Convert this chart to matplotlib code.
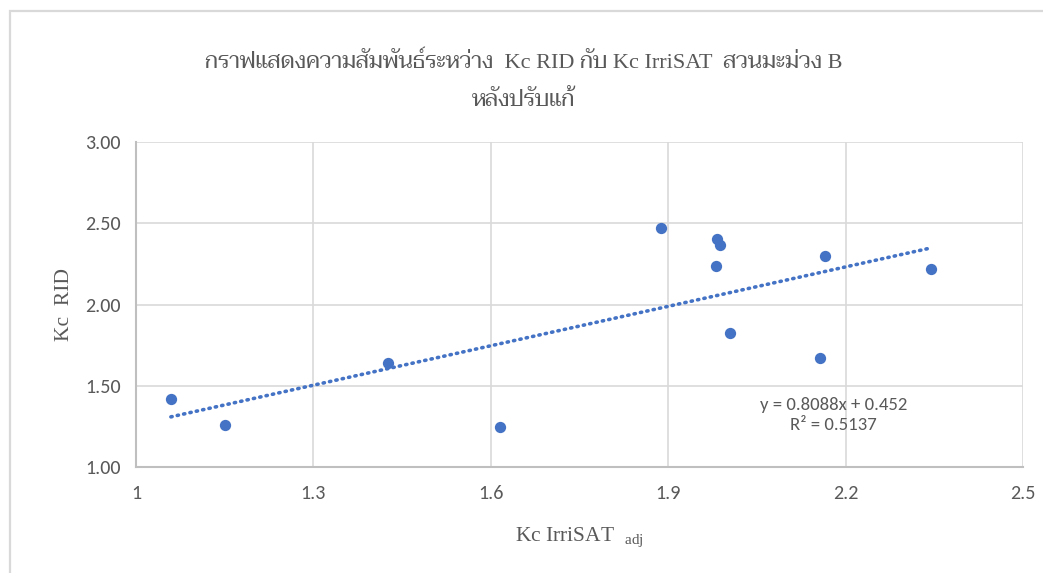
import matplotlib
matplotlib.use("Agg")
import matplotlib.pyplot as plt
from matplotlib.patches import Rectangle

# Kc values for mango plot B after adjustment
kc_irrisat = [1.059, 1.151, 1.426, 1.615, 1.887, 1.983, 1.987, 1.980, 2.005, 2.165, 2.157, 2.345]
kc_rid = [1.416, 1.257, 1.643, 1.245, 2.471, 2.402, 2.367, 2.235, 1.822, 2.296, 1.671, 2.218]

# linear trendline from the spreadsheet
slope = 0.8088
intercept = 0.452
r2 = 0.5137

xticks = [1, 1.3, 1.6, 1.9, 2.2, 2.5]
xtick_labels = ['1', '1.3', '1.6', '1.9', '2.2', '2.5']
yticks = [1.0, 1.5, 2.0, 2.5, 3.0]

title_1 = 'กราฟแสดงความสัมพันธ์ระหว่าง  Kc RID กับ Kc IrriSAT  สวนมะม่วง B'
title_2 = 'หลังปรับแก้'

serif = ['Liberation Serif', 'Taviraj', 'Noto Serif Thai', 'Sarabun', 'DejaVu Serif']
sans = ['Carlito', 'Lato', 'DejaVu Sans']
plt.rcParams['mathtext.fontset'] = 'custom'
plt.rcParams['mathtext.rm'] = 'Liberation Serif'

blue = '#4472C4'
grey_txt = '#595959'

fig = plt.figure(figsize=(10.43, 5.73), dpi=100)
ax = fig.add_axes([136/1043, 1-467/573, 887/1043, 325/573])

# chart frame (only top and left edges fall inside the image)
fig.patches.append(Rectangle((9.5/1043, -0.1), 1.2, 1.1 - 11.5/573, transform=fig.transFigure,
                             fill=False, ec='#d9d9d9', lw=1.6))

ax.scatter(kc_irrisat, kc_rid, s=66, c=blue, zorder=3, linewidths=0)

x0, x1 = min(kc_irrisat), max(kc_irrisat)
ax.plot([x0, x1], [slope*x0 + intercept, slope*x1 + intercept], color=blue, lw=2.6,
        linestyle=(0, (0.35, 1.45)), dash_capstyle='round', zorder=2)

ax.set_xlim(1, 2.5)
ax.set_ylim(1, 3)
ax.set_xticks(xticks)
ax.set_xticklabels(xtick_labels)
ax.set_yticks(yticks)
ax.set_yticklabels([f'{v:.2f}' for v in yticks])
ax.grid(True, color='#d9d9d9', lw=1.2)
ax.set_axisbelow(True)
ax.tick_params(length=0, labelsize=14.5, labelcolor=grey_txt)
ax.tick_params(axis='y', pad=11)
ax.tick_params(axis='x', pad=13)
for lbl in ax.get_xticklabels() + ax.get_yticklabels():
    lbl.set_family(sans)
for side in ['top', 'right']:
    ax.spines[side].set_visible(False)
for side in ['left', 'bottom']:
    ax.spines[side].set_color('#bfbfbf')
    ax.spines[side].set_linewidth(1.5)

ax.set_ylabel('Kc  RID', family=serif, fontsize=15.5, color=grey_txt, labelpad=8)
ax.set_xlabel(r'Kc IrriSAT  $_\mathrm{adj}$', family=serif, fontsize=15.5, color=grey_txt, labelpad=17)

fig.text(524/1043, 1-62/573, title_1, family=serif, fontsize=16, color=grey_txt, ha='center', va='center')
fig.text(524/1043, 1-100/573, title_2, family=serif, fontsize=16, color=grey_txt, ha='center', va='center')

ax.text(2.18, 1.322, f'y = {slope}x + {intercept}\nR² = {r2}', family=sans, fontsize=13.5,
        color=grey_txt, ha='center', va='center', linespacing=1.3)

fig.savefig('out.png', dpi=100)
